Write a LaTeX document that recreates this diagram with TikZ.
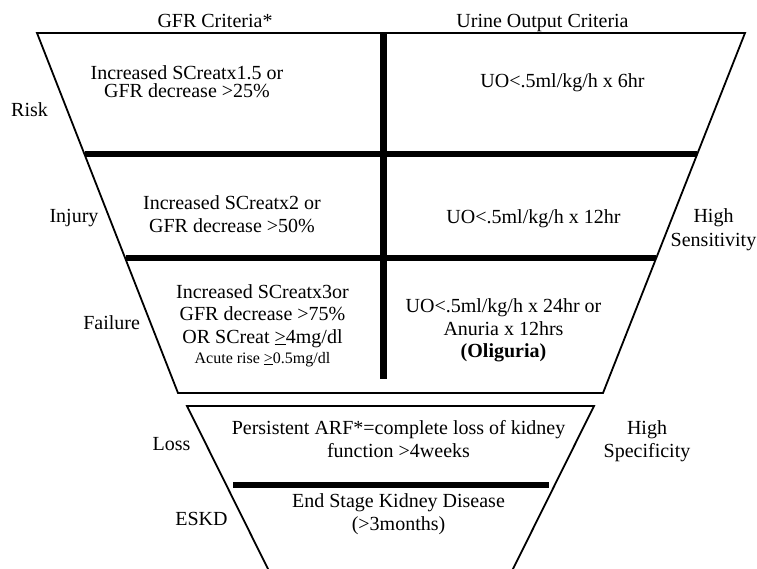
\documentclass[tikz,border=0pt]{standalone}
\usepackage{fontspec}
\setmainfont{Liberation Serif}
\tikzset{
  edge/.style={line width=1.8pt, line join=miter},
  hbar/.style={line width=6pt},
  vbar/.style={line width=7pt},
  lbl/.style={inner sep=0pt, anchor=base, font=\fontsize{20}{23}\selectfont},
  ctext/.style={inner sep=0pt, anchor=center, align=center, font=\fontsize{20}{#1}\selectfont},
  ctext/.default=23,
}
\begin{document}
\begin{tikzpicture}[x=1pt,y=-1pt]
\useasboundingbox (0,0) rectangle (757,569);
% upper trapezoid
\coordinate (utl) at (37,33);
\coordinate (utr) at (745,33);
\coordinate (ubr) at (603,393);
\coordinate (ubl) at (178,393);
\draw[edge] (utl) -- (utr) -- (ubr) -- (ubl) -- cycle;
\coordinate (r1l) at (84.6,154.5);
\coordinate (r1r) at (697.1,154.5);
\draw[hbar] (r1l) -- (r1r);
\coordinate (r2l) at (125.5,258);
\coordinate (r2r) at (656,258);
\draw[hbar] (r2l) -- (r2r);
\coordinate (vt) at (383,33);
\coordinate (vb) at (383,379);
\draw[vbar] (vt) -- (vb);
% lower trapezoid
\coordinate (ltl) at (187,406);
\coordinate (ltr) at (594,406);
\coordinate (lbl) at (271.5,576);
\coordinate (lbr) at (509.5,576);
\draw[edge] (lbl) -- (ltl) -- (ltr) -- (lbr);
\coordinate (l1l) at (233,485);
\coordinate (l1r) at (549,485);
\draw[hbar] (l1l) -- (l1r);
% headings
\node[lbl] (gfrhead) at (215,28) {GFR Criteria*};
\node[lbl] (uohead) at (542.5,28) {Urine Output Criteria};
% side labels
\node[lbl] (risk) at (29.5,117) {Risk};
\node[lbl] (injury) at (74,223) {Injury};
\node[lbl] (failure) at (111.7,329) {Failure};
\node[lbl] (loss) at (171.5,450) {Loss};
\node[lbl] (eskd) at (201.5,525) {ESKD};
\node[ctext=24] (sens) at (713.5,229.3) {High\\Sensitivity};
\node[ctext=23] (spec) at (647,440.8) {High\\Specificity};
% cells
\node[ctext=18.5] (riskgfr) at (187,81.5) {Increased SCreatx1.5 or\\GFR decrease >25\%};
\node[lbl] (riskuo) at (562.5,88) {UO<.5ml/kg/h x 6hr};
\node[ctext=23] (injgfr) at (232,213.8) {Increased SCreatx2 or\\GFR decrease >50\%};
\node[lbl] (injuo) at (533.5,224) {UO<.5ml/kg/h x 12hr};
\node[ctext=22.5] (failgfr) at (262.5,325.4) {Increased SCreatx3or\\GFR decrease >75\%\\OR SCreat \underline{>}4mg/dl\\[-2.5pt]{\fontsize{16}{18}\selectfont Acute rise \underline{>}0.5mg/dl}};
\node[ctext=22.5] (failuo) at (503.5,330.75) {UO<.5ml/kg/h x 24hr or\\Anuria x 12hrs\\\textbf{(Oliguria)}};
\node[ctext=23] (lossbox) at (398.5,438.75) {Persistent ARF*=complete loss of kidney\\function >4weeks};
\node[ctext=23] (eskdbox) at (398.5,514.4) {End Stage Kidney Disease\\(>3months)};
\end{tikzpicture}
\end{document}
